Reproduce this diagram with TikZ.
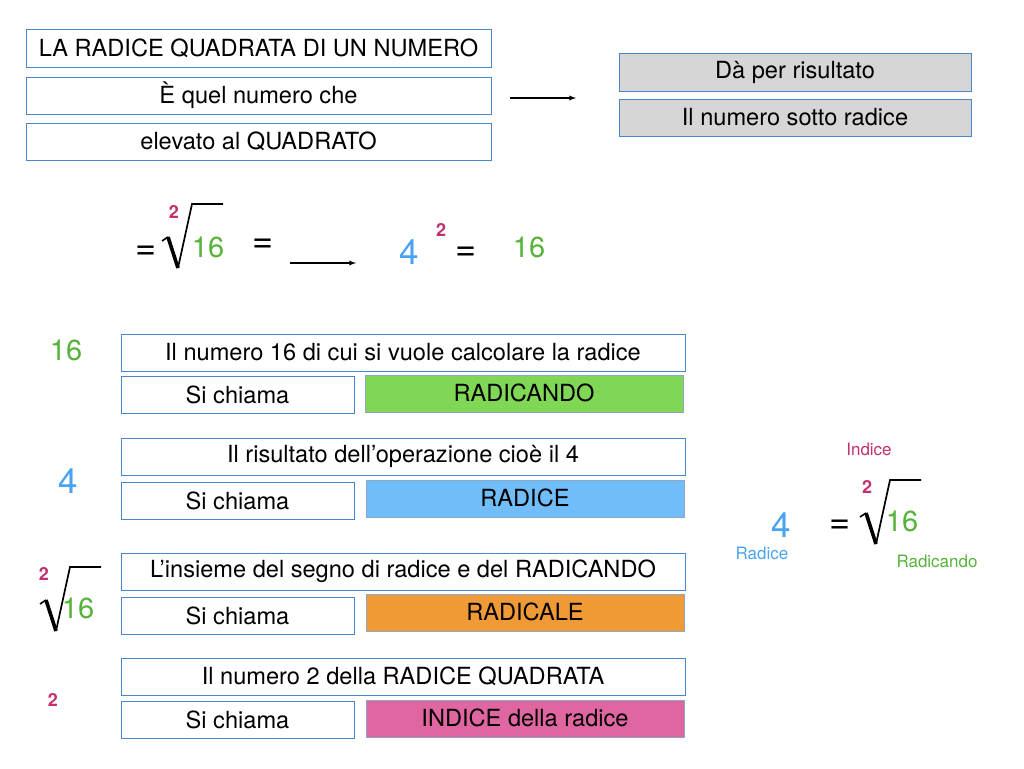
\documentclass[tikz,border=0pt]{standalone}
\usepackage{fontspec}
\setmainfont{TeX Gyre Heros}
\definecolor{boxline}{HTML}{4A86C8}
\definecolor{softline}{HTML}{8FA6C4}
\definecolor{greyfill}{HTML}{D6D6D6}
\definecolor{radgreen}{HTML}{80D655}
\definecolor{radblue}{HTML}{70BDF9}
\definecolor{radorange}{HTML}{F09A37}
\definecolor{radpink}{HTML}{E066A2}
\definecolor{txtgreen}{HTML}{56B33A}
\definecolor{txtblue}{HTML}{4AA3F0}
\definecolor{txtmag}{HTML}{C2306F}
\newcommand{\bigtxt}[1]{\fontsize{#1}{#1}\selectfont}
\tikzset{
  wbox/.style={draw=boxline, line width=1pt, fill=white, inner sep=0pt,
    minimum height=37pt, font=\bigtxt{23.6}},
  cbox/.style={wbox, draw=softline, minimum height=37pt},
  idx/.style={text=txtmag, font=\bfseries\bigtxt{18}},
  pics/radsign/.style={code={
    \draw[line width=1.6pt, line join=miter] (-30,37) -- (-24,33);
    \draw[line width=3.6pt] (-24,33) -- (-14,64);
    \draw[line width=1.7pt, line join=miter] (-14,64) -- (0,0) -- (31,0);
  }}
}
\begin{document}
\begin{tikzpicture}[x=1pt, y=-1pt]
\useasboundingbox (0,0) rectangle (1024,768);
% definizione
\node[wbox, minimum width=465pt] (D_0) at (258.5,48.5) {LA RADICE QUADRATA DI UN NUMERO};
\node[wbox, minimum width=465pt] (D_1) at (258.5,95.5) {È quel numero che};
\node[wbox, minimum width=465pt] (D_2) at (258.5,141.5) {elevato al QUADRATO};
\node[wbox, fill=greyfill, minimum width=352pt] (R_0) at (795,72.5) {Dà per risultato};
\node[wbox, fill=greyfill, minimum width=352pt] (R_1) at (795,117.5) {Il numero sotto radice};
\coordinate (A_0) at (510,98);
\coordinate (A_1) at (576,98);
\draw[line width=1.3pt, -latex] (A_0) -- (A_1);
% esempio
\node[font=\bigtxt{36}] (E_0) at (146,253) {=};
\pic at (192,204) {radsign};
\node[idx] (E_i) at (174,212) {2};
\node[text=txtgreen, font=\bigtxt{29}] (E_1) at (208,247) {16};
\node[font=\bigtxt{36}] (E_2) at (263,246) {=};
\coordinate (A_2) at (290,263);
\coordinate (A_3) at (356,263);
\draw[line width=1.3pt, -latex] (A_2) -- (A_3);
\node[text=txtblue, font=\bigtxt{35}] (E_3) at (409,252) {4};
\node[idx] (E_4) at (441,230) {2};
\node[font=\bigtxt{36}] (E_5) at (466,254) {=};
\node[text=txtgreen, font=\bigtxt{29}] (E_6) at (529,247) {16};
% radicando
\node[text=txtgreen, font=\bigtxt{29}] (L_0) at (66,350) {16};
\node[wbox, minimum width=564pt] (T_0) at (403,352.5) {Il numero 16 di cui si vuole calcolare la radice};
\node[wbox, minimum width=233pt] (S_0) at (237.5,394.5) {Si chiama};
\node[cbox, fill=radgreen, minimum width=318pt] (N_0) at (524,393.5) {\raisebox{2pt}{RADICANDO}};
% radice
\node[text=txtblue, font=\bigtxt{35}] (L_1) at (68,481) {4};
\node[wbox, minimum width=564pt] (T_1) at (403,456.5) {Il risultato dell’operazione cioè il 4};
\node[wbox, minimum width=233pt] (S_1) at (237.5,500.5) {Si chiama};
\node[cbox, fill=radblue, minimum width=318pt] (N_1) at (525,499) {\raisebox{2pt}{RADICE}};
% radicale
\pic at (70,567) {radsign};
\node[idx] (L_i) at (44,574) {2};
\node[text=txtgreen, font=\bigtxt{29}] (L_2) at (78,608) {16};
\node[wbox, minimum width=564pt] (T_2) at (403,571.5) {L’insieme del segno di radice e del RADICANDO};
\node[wbox, minimum width=233pt] (S_2) at (237.5,615.5) {Si chiama};
\node[cbox, fill=radorange, minimum width=318pt] (N_2) at (525,613) {\raisebox{2pt}{RADICALE}};
% indice
\node[idx] (L_3) at (53,700) {2};
\node[wbox, minimum width=564pt] (T_3) at (403,676.5) {Il numero 2 della RADICE QUADRATA};
\node[wbox, minimum width=233pt] (S_3) at (237.5,720) {Si chiama};
\node[cbox, fill=radpink, minimum width=318pt] (N_3) at (525,718.5) {\raisebox{2pt}{INDICE della radice}};
% schema a destra
\node[text=txtmag, font=\bigtxt{17}] (Q_0) at (869,449) {Indice};
\node[idx] (Q_1) at (867,487) {2};
\pic at (890,480) {radsign};
\node[text=txtgreen, font=\bigtxt{29}] (Q_2) at (902,521) {16};
\node[font=\bigtxt{36}] (Q_3) at (840,527) {=};
\node[text=txtblue, font=\bigtxt{35}] (Q_4) at (781,525) {4};
\node[text=txtblue, font=\bigtxt{17}] (Q_5) at (762,553) {Radice};
\node[text=txtgreen, font=\bigtxt{17}] (Q_6) at (937,561) {Radicando};
\end{tikzpicture}
\end{document}
